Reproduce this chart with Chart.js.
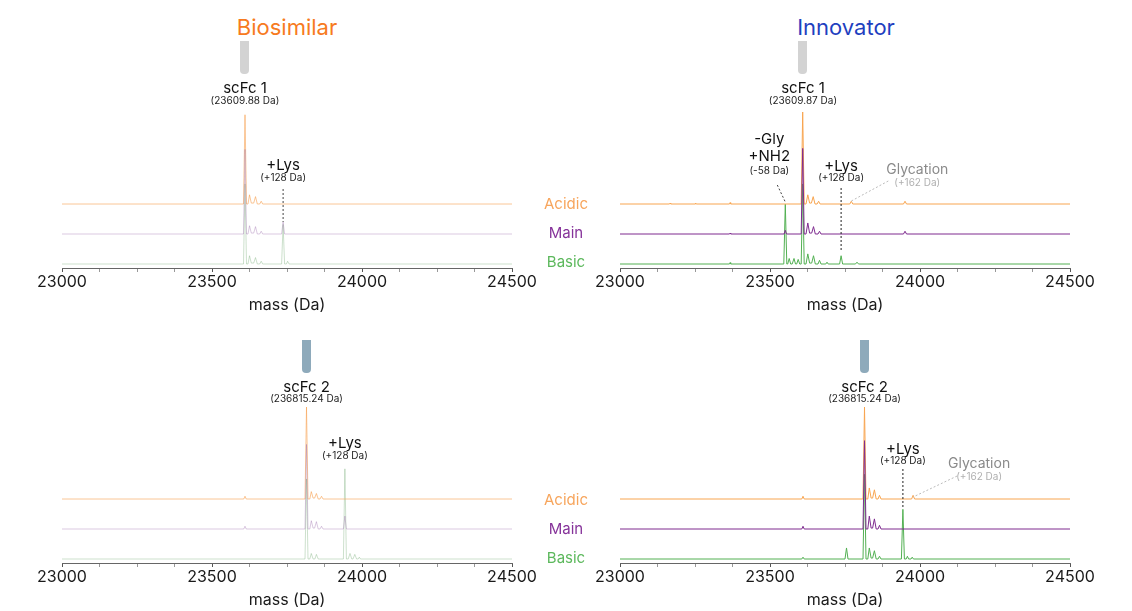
<!DOCTYPE html>
<html>
<head>
<meta charset="utf-8">
<script src="https://cdn.jsdelivr.net/npm/chart.js@4.4.1/dist/chart.umd.min.js"></script>
<style>
  html, body { margin: 0; padding: 0; background: #fff; overflow: hidden; }
  #page { position: relative; width: 1132px; height: 611px; font-family: Inter, "Liberation Sans", Arial, sans-serif; }
  .panel { position: absolute; width: 530px; height: 320px; }
  .panel canvas { display: block; }
  .title { position: absolute; font-size: 22px; transform: translate(-50%, -50%); white-space: nowrap; }
  .tube { position: absolute; width: 9px; height: 33px; border-radius: 0 0 4px 4px; }
  .trace-label { position: absolute; font-size: 15px; transform: translate(-50%, -50%); white-space: nowrap; }
</style>
</head>
<body>
<div id="page">
  <div class="title" style="left:287px; top:27px; color:#f77a20;">Biosimilar</div>
  <div class="title" style="left:846px; top:27px; color:#1f3fbf;">Innovator</div>

  <div class="tube" style="left:240px; top:41px; background:#d3d3d3;"></div>
  <div class="tube" style="left:798px; top:41px; background:#d3d3d3;"></div>
  <div class="tube" style="left:302px; top:340px; background:#8eaabb;"></div>
  <div class="tube" style="left:860px; top:340px; background:#8eaabb;"></div>

  <div class="panel" style="left:22px; top:0px;"><canvas id="tl" width="530" height="320"></canvas></div>
  <div class="panel" style="left:580px; top:0px;"><canvas id="tr" width="530" height="320"></canvas></div>
  <div class="panel" style="left:22px; top:295px;"><canvas id="bl" width="530" height="320"></canvas></div>
  <div class="panel" style="left:580px; top:295px;"><canvas id="br" width="530" height="320"></canvas></div>

  <div class="trace-label" style="left:566px; top:203px; color:#f7a55c;">Acidic</div>
  <div class="trace-label" style="left:566px; top:232px; color:#86339a;">Main</div>
  <div class="trace-label" style="left:566px; top:261px; color:#5cb85c;">Basic</div>
  <div class="trace-label" style="left:566px; top:499px; color:#f7a55c;">Acidic</div>
  <div class="trace-label" style="left:566px; top:528px; color:#86339a;">Main</div>
  <div class="trace-label" style="left:566px; top:557px; color:#5cb85c;">Basic</div>
</div>

<script>
// ---- axis ticks ----
const massTicks = [23000, 23125, 23250, 23375, 23500, 23625, 23750, 23875, 24000, 24125, 24250, 24375, 24500];
const massLabels = [23000, 23500, 24000, 24500];

// ---- deconvoluted spectra: [mass (Da), relative intensity] ----
// Biosimilar, scFc 1
const bioFc1Acidic = [[23000,0],[23605,0],[23610,97],[23615,0],[23620,0],[23625,10],[23631,1],[23639,1],[23645,8],[23651,0],[23659,0],[23664,3],[23669,0],[24500,0]];
const bioFc1Main   = [[23000,0],[23605,0],[23610,92],[23615,0],[23620,0],[23625,9],[23631,1],[23639,1],[23645,8],[23651,0],[23659,0],[23664,3],[23669,0],[23732,0],[23737,13],[23742,0],[24500,0]];
const bioFc1Basic  = [[23000,0],[23605,0],[23610,87],[23615,0],[23620,0],[23625,9],[23631,1],[23639,1],[23645,7],[23651,0],[23659,0],[23664,3],[23669,0],[23732,0],[23737,43],[23742,0],[23748,0],[23752,3],[23757,0],[24500,0]];

// Innovator, scFc 1
const innFc1Acidic = [[23000,0],[23165,0],[23167,1],[23169,0],[23250,0],[23252,1],[23254,0],[23365,0],[23367,1.5],[23369,0],[23604,0],[23609,100],[23614,0],[23620,0],[23626,10],[23632,1],[23638,1],[23644,8],[23650,0],[23657,0],[23662,3],[23667,0],[23766,0],[23771,3],[23776,0],[23945,0],[23950,3],[23955,0],[24500,0]];
const innFc1Main   = [[23000,0],[23365,0],[23367,1],[23369,0],[23547,0],[23551,4],[23555,0],[23604,0],[23609,93],[23614,0],[23620,0],[23626,12],[23632,1],[23639,1],[23645,8],[23651,0],[23660,0],[23665,3],[23670,0],[23945,0],[23950,3],[23955,0],[24500,0]];
const innFc1Basic  = [[23000,0],[23365,0],[23367,1.5],[23369,0],[23546,0],[23551,65],[23556,0],[23559,0],[23564,6],[23569,0],[23574,0],[23580,6],[23585,0],[23589,0],[23594,5],[23599,0],[23604,0],[23609,87],[23614,0],[23620,0],[23626,11],[23632,1],[23639,1],[23645,9],[23651,0],[23660,0],[23665,4],[23670,0],[23686,0],[23690,2],[23694,0],[23732,0],[23737,9],[23742,0],[23785,0],[23790,2],[23795,0],[24500,0]];

// Biosimilar, scFc 2
const bioFc2Acidic = [[23000,0],[23606,0],[23610,3],[23614,0],[23810,0],[23815,100],[23820,0],[23826,0],[23831,8],[23837,1],[23842,1],[23848,6],[23854,0],[23860,0],[23865,3],[23870,0],[24500,0]];
const bioFc2Main   = [[23000,0],[23606,0],[23610,3],[23614,0],[23810,0],[23815,92],[23820,0],[23826,0],[23831,9],[23837,1],[23842,1],[23848,8],[23854,0],[23860,0],[23865,3],[23870,0],[23938,0],[23943,14],[23948,0],[24500,0]];
const bioFc2Basic  = [[23000,0],[23810,0],[23815,87],[23820,0],[23826,0],[23831,6],[23837,0],[23843,0],[23848,5],[23854,0],[23938,0],[23943,98],[23948,0],[23954,0],[23960,6],[23966,0],[23970,0],[23976,5],[23982,0],[23987,0],[23991,2],[23995,0],[24500,0]];

// Innovator, scFc 2
const innFc2Acidic = [[23000,0],[23606,0],[23610,3],[23614,0],[23810,0],[23815,100],[23820,0],[23826,0],[23831,12],[23837,1],[23842,1],[23848,10],[23854,0],[23860,0],[23865,4],[23870,0],[23972,0],[23977,4],[23982,0],[24500,0]];
const innFc2Main   = [[23000,0],[23606,0],[23610,3],[23614,0],[23810,0],[23815,96],[23820,0],[23826,0],[23831,14],[23837,1],[23842,1],[23848,11],[23854,0],[23860,0],[23865,4],[23870,0],[24500,0]];
const innFc2Basic  = [[23000,0],[23606,0],[23610,2],[23614,0],[23750,0],[23755,12],[23760,0],[23810,0],[23815,92],[23820,0],[23826,0],[23831,12],[23837,1],[23842,1],[23848,9],[23854,0],[23860,0],[23865,3],[23870,0],[23938,0],[23943,54],[23948,0],[23954,0],[23958,3],[23962,0],[23970,0],[23974,2],[23978,0],[24500,0]];

const FONT = 'Inter, "Liberation Sans", Arial, sans-serif';

// line colours for the three charge-variant fractions
const innovatorColors = { acidic: '#f8a550', main: '#7e2b8f', basic: '#52b052' };
const biosimilarColors = { acidic: 'rgba(246,160,80,0.6)', main: 'rgba(150,100,165,0.35)', basic: 'rgba(110,165,110,0.35)' };

// each trace gets its own hidden y-axis so the three spectra sit on offset baselines
const PLOT_H = 90;          // plot area height in px
const UNIT_PX = 0.92;       // px per intensity unit
function offsetAxis(baselineFromTop) {
  const max = baselineFromTop / UNIT_PX;
  return { display: false, min: max - PLOT_H / UNIT_PX, max: max };
}

// text labels and dotted leaders attached to peak masses
function notesPlugin(notes) {
  return {
    id: 'peakNotes',
    afterDatasetsDraw(chart) {
      const ctx = chart.ctx;
      const xs = chart.scales.x;
      ctx.save();
      notes.forEach(n => {
        const px = xs.getPixelForValue(n.mass);
        if (n.leader) {
          ctx.beginPath();
          ctx.setLineDash([2, 2]);
          ctx.lineWidth = 1;
          ctx.strokeStyle = n.leader.color;
          ctx.moveTo(px + n.leader.dx, n.leader.y1);
          ctx.lineTo(px, n.leader.y2);
          ctx.stroke();
          ctx.setLineDash([]);
        }
        ctx.textAlign = 'center';
        ctx.textBaseline = 'middle';
        n.lines.forEach(l => {
          ctx.font = l.size + 'px ' + FONT;
          ctx.fillStyle = l.color;
          ctx.fillText(l.text, px + (n.dx || 0), l.y);
        });
      });
      ctx.restore();
    }
  };
}

function traceSet(acidic, main, basic, colors) {
  const common = { borderWidth: 1, pointRadius: 0, tension: 0, clip: false, fill: false };
  return [
    Object.assign({ label: 'Main', data: main, yAxisID: 'yM', borderColor: colors.main, order: 0 }, common),
    Object.assign({ label: 'Acidic', data: acidic, yAxisID: 'yA', borderColor: colors.acidic, order: 1 }, common),
    Object.assign({ label: 'Basic', data: basic, yAxisID: 'yB', borderColor: colors.basic, order: 2 }, common)
  ];
}

function makeChart(id, datasets, notes) {
  return new Chart(document.getElementById(id), {
    type: 'line',
    data: { datasets: datasets },
    options: {
      responsive: false,
      animation: false,
      events: [],
      layout: { padding: { top: 178, left: 40, right: 40, bottom: 0 } },
      plugins: { legend: { display: false }, tooltip: { enabled: false } },
      scales: {
        x: {
          type: 'linear', position: 'bottom', min: 23000, max: 24500,
          afterBuildTicks: s => { s.ticks = massTicks.map(v => ({ value: v })); },
          afterFit: s => { s.height = 52; },
          ticks: {
            autoSkip: false, maxRotation: 0, padding: 1, color: '#1a1a1a',
            font: { family: FONT, size: 16 },
            callback: v => massLabels.includes(v) ? String(v) : ''
          },
          grid: {
            drawOnChartArea: false, drawTicks: true, tickLength: 4,
            tickColor: c => (c.tick && massLabels.includes(c.tick.value)) ? '#555' : '#999'
          },
          border: { display: true, color: '#666', width: 1 },
          title: {
            display: true, text: 'mass (Da)', color: '#1a1a1a',
            font: { family: FONT, size: 16 }, padding: { top: 0, bottom: 5 }
          }
        },
        yA: offsetAxis(26),
        yM: offsetAxis(56),
        yB: offsetAxis(86)
      }
    },
    plugins: [notesPlugin(notes)]
  });
}

const BLACK = '#111', DARK = '#222', GREY = '#8a8a8a', LIGHT = '#b0b0b0';

makeChart('tl', traceSet(bioFc1Acidic, bioFc1Main, bioFc1Basic, biosimilarColors), [
  { mass: 23609.88, lines: [ { text: 'scFc 1', size: 15, color: BLACK, y: 88 }, { text: '(23609.88 Da)', size: 10, color: DARK, y: 101 } ] },
  { mass: 23737, lines: [ { text: '+Lys', size: 15, color: BLACK, y: 165 }, { text: '(+128 Da)', size: 10, color: DARK, y: 178 } ],
    leader: { dx: 0, y1: 189, y2: 222, color: '#444' } }
]);

makeChart('tr', traceSet(innFc1Acidic, innFc1Main, innFc1Basic, innovatorColors), [
  { mass: 23609.87, lines: [ { text: 'scFc 1', size: 15, color: BLACK, y: 88 }, { text: '(23609.87 Da)', size: 10, color: DARK, y: 101 } ] },
  { mass: 23551, dx: -16, lines: [ { text: '-Gly', size: 15, color: BLACK, y: 139 }, { text: '+NH2', size: 15, color: BLACK, y: 156 }, { text: '(-58 Da)', size: 10, color: DARK, y: 171 } ],
    leader: { dx: -8, y1: 185, y2: 202, color: '#444' } },
  { mass: 23737, lines: [ { text: '+Lys', size: 15, color: BLACK, y: 166 }, { text: '(+128 Da)', size: 10, color: DARK, y: 178 } ],
    leader: { dx: 0, y1: 188, y2: 252, color: '#222' } },
  { mass: 23771, dx: 66, lines: [ { text: 'Glycation', size: 14, color: GREY, y: 170 }, { text: '(+162 Da)', size: 10, color: LIGHT, y: 183 } ],
    leader: { dx: 37, y1: 181, y2: 201, color: '#bbb' } }
]);

makeChart('bl', traceSet(bioFc2Acidic, bioFc2Main, bioFc2Basic, biosimilarColors), [
  { mass: 23815.24, lines: [ { text: 'scFc 2', size: 15, color: BLACK, y: 92 }, { text: '(236815.24 Da)', size: 10, color: DARK, y: 104 } ] },
  { mass: 23943, lines: [ { text: '+Lys', size: 15, color: BLACK, y: 148 }, { text: '(+128 Da)', size: 10, color: DARK, y: 161 } ] }
]);

makeChart('br', traceSet(innFc2Acidic, innFc2Main, innFc2Basic, innovatorColors), [
  { mass: 23815.24, lines: [ { text: 'scFc 2', size: 15, color: BLACK, y: 92 }, { text: '(236815.24 Da)', size: 10, color: DARK, y: 104 } ] },
  { mass: 23943, lines: [ { text: '+Lys', size: 15, color: BLACK, y: 154 }, { text: '(+128 Da)', size: 10, color: DARK, y: 166 } ],
    leader: { dx: 0, y1: 174, y2: 212, color: '#222' } },
  { mass: 23977, dx: 66, lines: [ { text: 'Glycation', size: 14, color: GREY, y: 169 }, { text: '(+162 Da)', size: 10, color: LIGHT, y: 182 } ],
    leader: { dx: 44, y1: 181, y2: 202, color: '#bbb' } }
]);
</script>
</body>
</html>
